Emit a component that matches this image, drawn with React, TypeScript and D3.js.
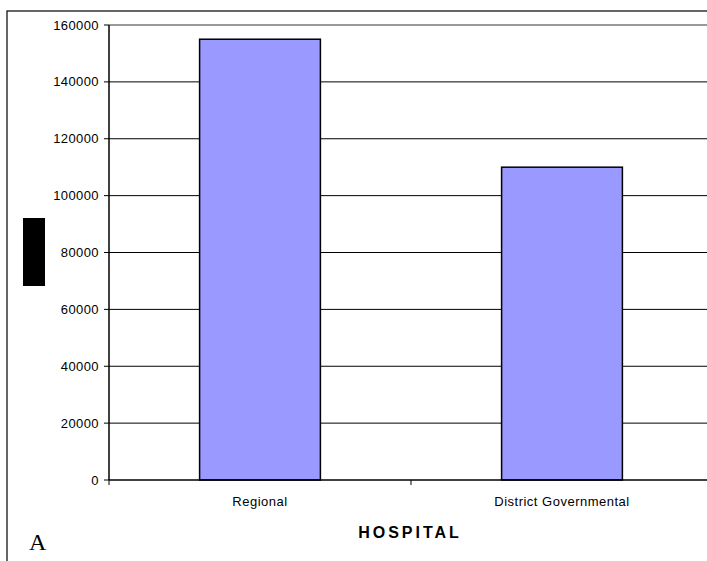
import React from "react";
import * as d3 from "d3";

const categories = ["Regional", "District Governmental"];
const values = [155000, 110000];
const yTicks = [0, 20000, 40000, 60000, 80000, 100000, 120000, 140000, 160000];
const xAxisTitle = "HOSPITAL";
const panelLabel = "A";

export default function App() {
  const W = 707, H = 561;
  const left = 109, right = 713, top = 25, bottom = 480;
  const y = d3.scaleLinear().domain([0, 160000]).range([bottom, top]);
  const x = d3.scaleBand<string>().domain(categories).range([left, right]).padding(0);
  const bw = x.bandwidth() * 0.4;
  const font = "Arial, 'Liberation Sans', Helvetica, sans-serif";

  return (
    <svg width={W} height={H} style={{ position: "absolute", left: 0, top: 0 }} xmlns="http://www.w3.org/2000/svg">
      <rect x={0} y={0} width={W} height={H} fill="#fff" />
      {/* outer frame */}
      <rect x={7} y={11} width={900} height={700} fill="none" stroke="#000" strokeWidth={1.2} />
      {/* gridlines */}
      {yTicks.filter(t => t > 0).map(t => (
        <line key={"g" + t} x1={left} x2={W} y1={y(t)} y2={y(t)}
          stroke={t === 160000 ? "#999" : "#000"} strokeWidth={t === 160000 ? 2.2 : 1} />
      ))}
      {/* bars */}
      {categories.map((c, i) => {
        const cx = (x(c) as number) + x.bandwidth() / 2;
        return (
          <rect key={c} x={cx - bw / 2} y={y(values[i])} width={bw} height={y(0) - y(values[i])}
            fill="#9999FF" stroke="#000" strokeWidth={1.5} />
        );
      })}
      {/* y axis */}
      <line x1={left} x2={left} y1={top} y2={bottom} stroke="#000" strokeWidth={1.5} />
      {yTicks.map(t => (
        <g key={"t" + t}>
          <line x1={left - 5} x2={left} y1={y(t)} y2={y(t)} stroke="#000" strokeWidth={1} />
          <text x={99} y={y(t)} dy="0.35em" textAnchor="end" fontFamily={font} fontSize={13} letterSpacing={0.4} fill="#000">{t}</text>
        </g>
      ))}
      {/* x axis */}
      <line x1={left} x2={W} y1={bottom} y2={bottom} stroke="#000" strokeWidth={1.5} />
      {[...categories.map(c => x(c) as number), right].map((p, i) => (
        <line key={"xt" + i} x1={p} x2={p} y1={bottom} y2={bottom + 5} stroke="#000" strokeWidth={1} />
      ))}
      {categories.map(c => (
        <text key={"l" + c} x={(x(c) as number) + x.bandwidth() / 2} y={506} textAnchor="middle"
          fontFamily={font} fontSize={13} letterSpacing={0.5} fill="#000">{c}</text>
      ))}
      <text x={410} y={538} textAnchor="middle" fontFamily={font} fontSize={16} fontWeight="bold" letterSpacing={3} fill="#000">{xAxisTitle}</text>
      {/* y-axis title (redacted block) */}
      <rect x={23} y={218} width={22} height={68} fill="#000" />
      <text x={29} y={550} fontFamily="'Liberation Serif', 'Times New Roman', serif" fontSize={24} fill="#000">{panelLabel}</text>
    </svg>
  );
}
